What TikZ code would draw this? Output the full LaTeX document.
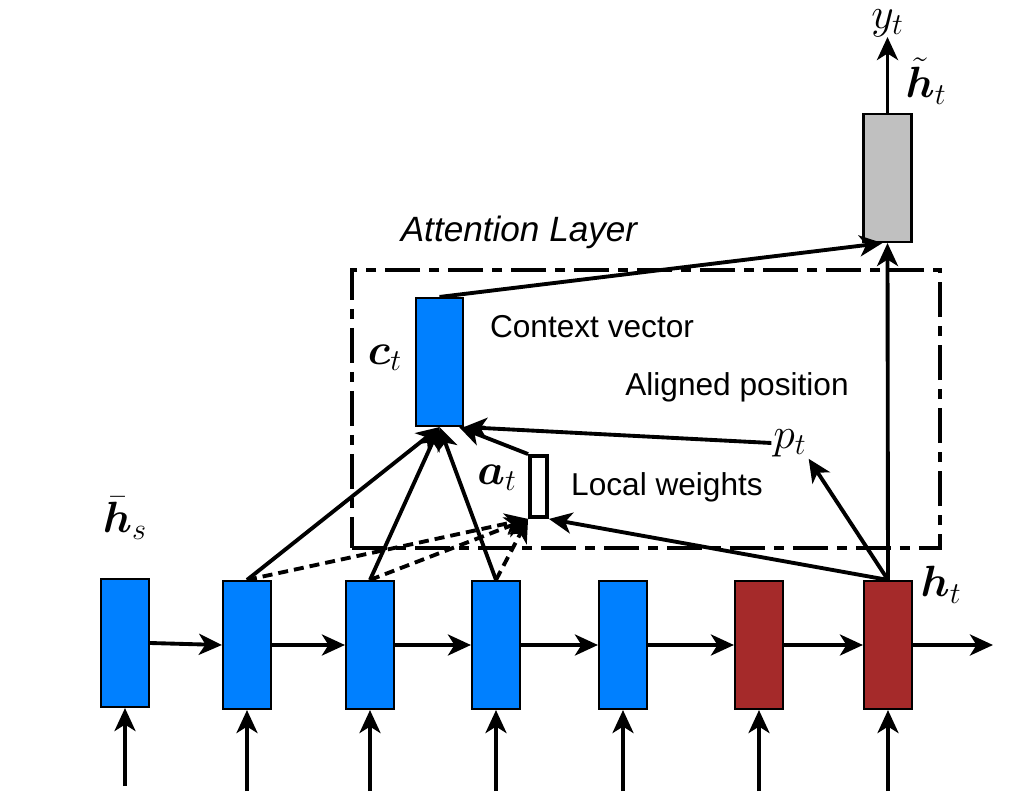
\documentclass[tikz,border=0pt]{standalone}
\usepackage{amsmath}
\usepackage{fontspec}
\setmainfont{Liberation Sans}
\usetikzlibrary{arrows.meta}
\definecolor{cellblue}{RGB}{0,128,255}
\definecolor{cellred}{RGB}{165,42,42}
\definecolor{cellgray}{RGB}{192,192,192}
\tikzset{
  cell/.style={draw, line width=1.2pt, minimum width=0.96cm, minimum height=2.56cm, inner sep=0pt},
  arr/.style={line width=2.2pt, -{Stealth[length=0.46cm,width=0.42cm,inset=0.13cm]}},
  dsh/.style={arr, dash pattern=on 0.2cm off 0.12cm},
  frame/.style={draw, line width=2.2pt, dash pattern=on 0.7cm off 0.18cm on 0.2cm off 0.18cm, minimum width=11.76cm, minimum height=5.56cm},
  lbl/.style={font=\fontsize{18}{20}\selectfont},
  attlbl/.style={font=\fontsize{20}{22}\selectfont\itshape},
  mlbl/.style={font=\fontsize{26}{30}\selectfont, inner sep=1pt},
}
\begin{document}
\begin{tikzpicture}
\useasboundingbox (0,0) rectangle (20.4,15.92);
% attention frame
\node[frame] (attn) at (12.92,7.74) {};
\node[attlbl] (attnlab) at (10.38,11.28) {Attention Layer};
% recurrent cells
\node[cell, fill=cellblue] (b1) at (2.5,3.06) {};
\node[cell, fill=cellblue] (b2) at (4.94,3.02) {};
\node[cell, fill=cellblue] (b3) at (7.4,3.02) {};
\node[cell, fill=cellblue] (b4) at (9.92,3.02) {};
\node[cell, fill=cellblue] (b5) at (12.46,3.02) {};
\node[cell, fill=cellred] (b6) at (15.18,3.02) {};
\node[cell, fill=cellred] (b7) at (17.76,3.02) {};
\coordinate (out) at (19.86,3.02);
% inputs
\coordinate (in1) at (2.5,0.2);
\coordinate (in2) at (4.94,0.1);
\coordinate (in3) at (7.4,0.1);
\coordinate (in4) at (9.92,0.1);
\coordinate (in5) at (12.46,0.1);
\coordinate (in6) at (15.18,0.1);
\coordinate (in7) at (17.76,0.1);
% context, weights, output
\node[cell, fill=cellblue, minimum width=0.94cm] (ct) at (8.79,8.68) {};
\node[cell, fill=white, line width=2.2pt, minimum width=0.34cm, minimum height=1.22cm] (at) at (10.77,6.19) {};
\node[cell, fill=cellgray] (gray) at (17.75,12.36) {};
% labels
\node[mlbl] (hslab) at (2.5,5.56) {$\bar{\boldsymbol{h}}_s$};
\node[mlbl] (htlab) at (18.82,4.22) {$\boldsymbol{h}_t$};
\node[mlbl] (ctlab) at (7.7,8.76) {$\boldsymbol{c}_t$};
\node[mlbl] (atlab) at (9.94,6.36) {$\boldsymbol{a}_t$};
\node[mlbl] (pt) at (15.8,7.06) {$p_t$};
\node[mlbl] (httlab) at (18.52,14.3) {$\tilde{\boldsymbol{h}}_t$};
\node[mlbl, anchor=south, inner sep=0pt] (yt) at (17.75,15.18) {$y_t$};
\node[lbl] (ctxt) at (11.84,9.38) {Context vector};
\node[lbl] (alig) at (14.74,8.18) {Aligned position};
\node[lbl] (locw) at (13.34,6.18) {Local weights};
% chain
\draw[arr] (b1.east) -- (b2.west);
\draw[arr] (b2.east) -- (b3.west);
\draw[arr] (b3.east) -- (b4.west);
\draw[arr] (b4.east) -- (b5.west);
\draw[arr] (b5.east) -- (b6.west);
\draw[arr] (b6.east) -- (b7.west);
\draw[arr] (b7.east) -- (out);
\foreach \i in {1,...,7}
  \draw[arr] (in\i) -- (b\i.south);
% attention
\draw[arr] (b2.north) -- (ct.south);
\draw[arr] (b3.north) -- (ct.south);
\draw[arr] (b4.north) -- (ct.south);
\draw[dsh] (b2.north) -- (at.south west);
\draw[dsh] (b3.north) -- (at.south west);
\draw[dsh] (b4.north) -- (at.south west);
\draw[arr] (b7.north) -- (at.south east);
\draw[arr] (at.north west) -- ([xshift=-0.1cm]ct.south east);
\draw[arr] (pt.west) -- (ct.south east);
\draw[arr] (b7.north) -- (pt.south east);
\draw[arr] (b7.north) -- (gray.south);
\draw[arr] (ct.north) -- ([xshift=-0.1cm]gray.south);
\draw[arr] (gray.north) -- (yt.south);
\end{tikzpicture}
\end{document}
